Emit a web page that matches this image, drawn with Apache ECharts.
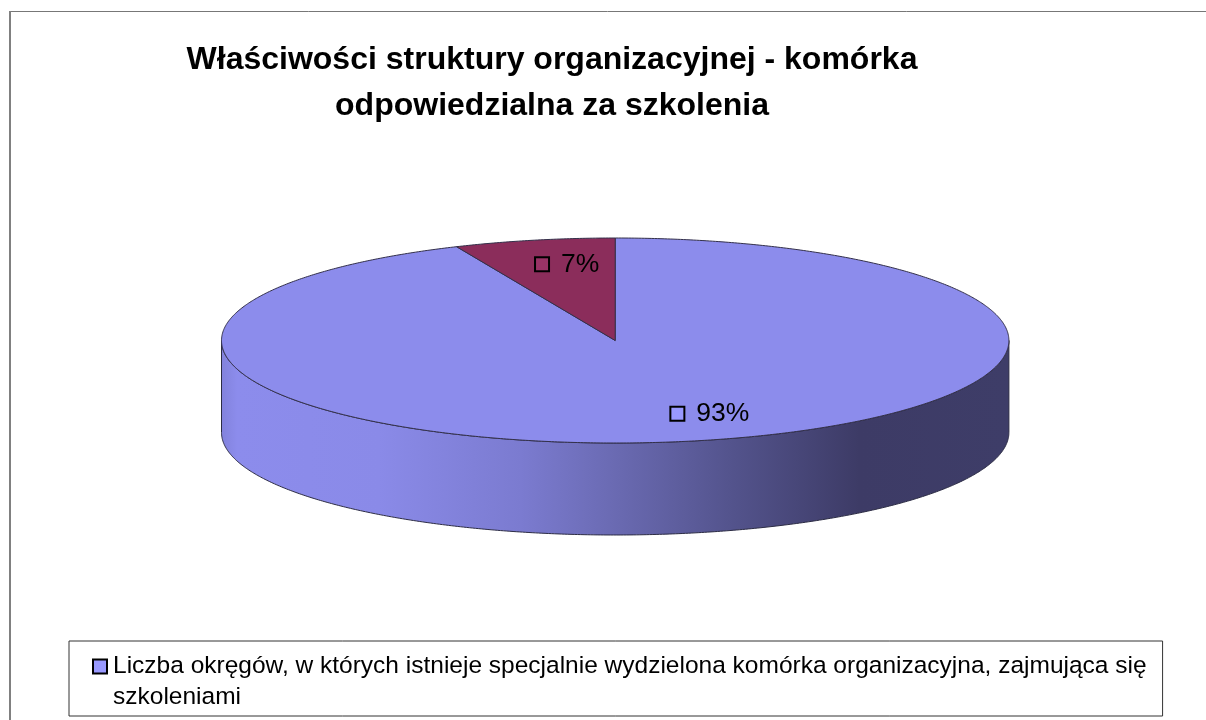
<!DOCTYPE html>
<html>
<head>
<meta charset="utf-8">
<style>html,body{margin:0;padding:0;background:#fff}#c{width:1206px;height:720px}</style>
<script src="https://cdn.jsdelivr.net/npm/echarts@6/dist/echarts.min.js"></script>
</head>
<body>
<div id="c"></div>
<script>
const titleLines = ['Właściwości struktury organizacyjnej - komórka', 'odpowiedzialna za szkolenia'];
const seriesName = 'Liczba okręgów, w których istnieje specjalnie wydzielona komórka organizacyjna, zajmująca się szkoleniami';
const legendLines = ['Liczba okręgów, w których istnieje specjalnie wydzielona komórka organizacyjna, zajmująca się', 'szkoleniami'];
const sliceNames = ['Tak', 'Nie'];
const sliceValues = [93.4, 6.6];
const sliceColors = ['#8c8cec', '#8b2d5b'];
const markerColors = ['#9999ff', '#993366'];
const labelOffsets = [[-3, 0], [-20, -3]];

const cx = 615.2, cy = 340.5, rx = 393.7, ry = 102.5, depth = 92;
const total = sliceValues.reduce((a, b) => a + b, 0);

const ell = (t, dy) => [cx + rx * Math.sin(t), cy + (dy || 0) - ry * Math.cos(t)];
function arc(a, b, dy) {
  const pts = [], n = Math.max(2, Math.ceil(Math.abs(b - a) * 120));
  for (let i = 0; i <= n; i++) pts.push(ell(a + (b - a) * i / n, dy));
  return pts;
}
const wallFill = {
  type: 'linear', global: true, x: cx - rx, y: 0, x2: cx + rx, y2: 0,
  colorStops: [
    { offset: 0, color: '#8282dc' }, { offset: 0.02, color: '#8c8cec' },
    { offset: 0.2, color: '#8a8ae8' }, { offset: 0.38, color: '#7b7bd0' },
    { offset: 0.5, color: '#6a6ab2' }, { offset: 0.65, color: '#53538c' },
    { offset: 0.81, color: '#3d3b66' }, { offset: 1, color: '#3e3d68' }
  ]
};

function renderItem(params, api) {
  const idx = params.dataIndex;
  let before = 0;
  for (let i = 0; i < idx; i++) before += sliceValues[i];
  const a = before / total * Math.PI * 2;
  const b = (before + api.value(0)) / total * Math.PI * 2;
  const children = [];

  const wa = Math.max(a, Math.PI / 2), wb = Math.min(b, Math.PI * 1.5);
  if (wb > wa) {
    const top = arc(wa, wb, 0), bot = arc(wb, wa, depth);
    children.push({
      type: 'polygon', shape: { points: top.concat(bot) },
      style: { fill: wallFill, stroke: '#2c2c44', lineWidth: 1 }
    });
  }
  const topPts = arc(a, b, 0);
  topPts.push([cx, cy]);
  children.push({
    type: 'polygon', shape: { points: topPts },
    style: { fill: sliceColors[idx], stroke: '#33304a', lineWidth: 1 }
  });

  const mid = (a + b) / 2, off = labelOffsets[idx];
  children.push({
    type: 'text', z2: 10,
    x: cx + rx * 0.73 * Math.sin(mid) + off[0],
    y: cy - ry * 0.73 * Math.cos(mid) + off[1],
    style: {
      text: '{b|}{g|}{t|' + Math.round(api.value(0) / total * 100) + '%}',
      verticalAlign: 'middle', align: 'left',
      rich: {
        b: { width: 12, height: 12, backgroundColor: markerColors[idx], borderColor: '#000', borderWidth: 2 },
        g: { width: 13, height: 11 },
        t: { fontFamily: 'Liberation Sans', fontSize: 26.5, color: '#000' }
      }
    }
  });
  return { type: 'group', children };
}

const chart = echarts.init(document.getElementById('c'), null, { renderer: 'canvas' });
chart.setOption({
  animation: false,
  backgroundColor: '#fff',
  title: {
    text: titleLines.join('\n'), left: 547, top: 32, textAlign: 'center',
    textStyle: { fontFamily: 'Liberation Sans', fontWeight: 'bold', fontSize: 32, lineHeight: 46, color: '#000' }
  },
  legend: {
    left: 69, top: 641, orient: 'horizontal', selectedMode: false,
    icon: 'rect', itemWidth: 0, itemHeight: 0, itemGap: 0,
    padding: [13, 16, 6, 20], borderColor: '#333', borderWidth: 1,
    data: [seriesName],
    formatter: () => '{b|}{g|}{t|' + legendLines[0] + '}\n{i|}{t|' + legendLines[1] + '}',
    textStyle: {
      rich: {
        b: { width: 12, height: 12, backgroundColor: markerColors[0], borderColor: '#000', borderWidth: 2 },
        g: { width: 7, height: 11 },
        i: { width: 19, height: 11 },
        t: { fontFamily: 'Liberation Sans', fontSize: 24.5, lineHeight: 31, color: '#000' }
      }
    }
  },
  graphic: [
    { type: 'line', silent: true, z: -1, shape: { x1: 9, y1: 11.5, x2: 1206, y2: 11.5 }, style: { stroke: '#777', lineWidth: 1 } },
    { type: 'line', silent: true, z: -1, shape: { x1: 10, y1: 11, x2: 10, y2: 720 }, style: { stroke: '#808080', lineWidth: 2 } }
  ],
  series: [{
    type: 'custom', name: seriesName, coordinateSystem: 'none',
    renderItem,
    data: sliceValues.map((v, i) => ({ name: sliceNames[i], value: [v] }))
  }]
});
</script>
</body>
</html>
